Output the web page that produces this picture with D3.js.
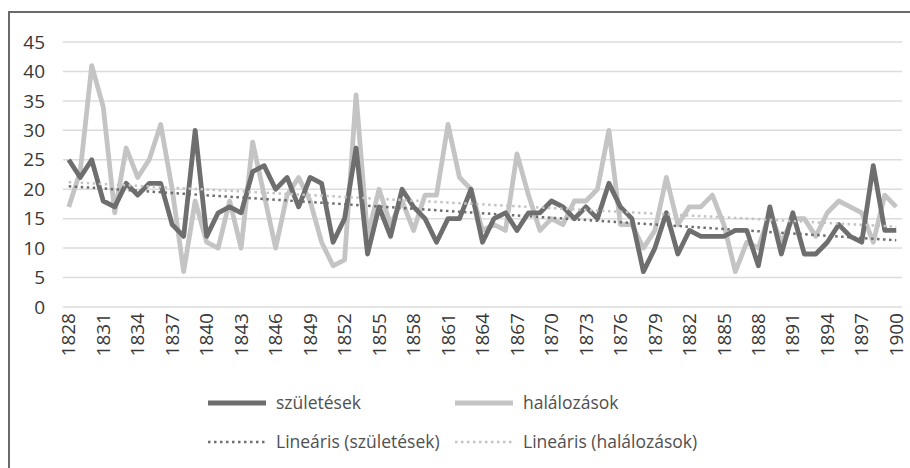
<!DOCTYPE html>
<html lang="hu"><head>
<meta charset="UTF-8"><title>Születések és halálozások 1828–1900</title>
<script src="https://cdn.jsdelivr.net/npm/d3@7/dist/d3.min.js"></script>
<style>
  body { margin:0; background:#fff; }
  svg { display:block; font-family: 'Open Sans', 'Noto Sans', sans-serif; }
  .tick-label { fill:#383838; }
  .legend text { fill:#505050; }
</style>
</head><body>
<svg id="chart" width="910" height="468"></svg>
<script>
// évek 1828–1900
const years = d3.range(1828, 1901);
const births = [25, 22, 25, 18, 17, 21, 19, 21, 21, 14, 12, 30, 12, 16, 17, 16, 23, 24, 20, 22,
  17, 22, 21, 11, 15, 27, 9, 17, 12, 20, 17, 15, 11, 15, 15, 20, 11, 15, 16, 13,
  16, 16, 18, 17, 15, 17, 15, 21, 17, 15, 6, 10, 16, 9, 13, 12, 12, 12, 13, 13,
  7, 17, 9, 16, 9, 9, 11, 14, 12, 11, 24, 13, 13];
const deaths = [17, 23, 41, 34, 16, 27, 22, 25, 31, 20, 6, 18, 11, 10, 18, 10, 28, 19, 10, 19,
  22, 18, 11, 7, 8, 36, 12, 20, 14, 18, 13, 19, 19, 31, 22, 20, 13, 14, 13, 26,
  19, 13, 15, 14, 18, 18, 20, 30, 14, 14, 10, 13, 22, 14, 17, 17, 19, 14, 6, 11,
  10, 16, 11, 15, 15, 12, 16, 18, 17, 16, 11, 19, 17];
const yTicks = [0, 5, 10, 15, 20, 25, 30, 35, 40, 45];
const xTickYears = years.filter((y, i) => i % 3 === 0);

const seriesNames = ['születések', 'halálozások'];
const trendNames = ['Lineáris (születések)', 'Lineáris (halálozások)'];
const DARK = '#6e6e6e', LIGHT = '#c4c4c4';

const svg = d3.select('#chart');

// keret (csak bal és felső él látszik)
svg.append('path')
  .attr('d', 'M9,468 V12 H910')
  .attr('fill', 'none').attr('stroke', '#6a6a6a').attr('stroke-width', 2);

const x = d3.scalePoint().domain(years).range([63, 902]).padding(0.5);
const y = d3.scaleLinear().domain([0, 45]).range([307, 42]);

// rácsvonalak
svg.append('g').selectAll('line').data(yTicks).join('line')
  .attr('x1', 63).attr('x2', 902)
  .attr('y1', d => y(d)).attr('y2', d => y(d))
  .attr('stroke', '#dcdcdc').attr('stroke-width', 1.5);

// y tengely feliratok
svg.append('g').selectAll('text').data(yTicks).join('text')
  .attr('class', 'tick-label')
  .attr('x', 45).attr('y', d => y(d)).attr('dy', '0.35em')
  .attr('text-anchor', 'end').attr('font-size', 19)
  .text(d => d);

// x tengely feliratok (függőleges)
svg.append('g').selectAll('text').data(xTickYears).join('text')
  .attr('class', 'tick-label')
  .attr('transform', d => `translate(${x(d)},${313}) rotate(-90)`)
  .attr('dy', '0.35em').attr('text-anchor', 'end').attr('font-size', 19)
  .text(d => d);

// lineáris trend (legkisebb négyzetek)
function linearFit(vals) {
  const xm = d3.mean(years), ym = d3.mean(vals);
  let sxy = 0, sxx = 0;
  years.forEach((yr, i) => { sxy += (yr - xm) * (vals[i] - ym); sxx += (yr - xm) ** 2; });
  const b = sxy / sxx;
  return yr => ym + b * (yr - xm);
}

const line = d3.line().x((d, i) => x(years[i])).y(d => y(d));

const plot = svg.append('g');
plot.append('path').datum(deaths)
  .attr('d', line).attr('fill', 'none')
  .attr('stroke', LIGHT).attr('stroke-width', 4.8).attr('stroke-linejoin', 'round');
plot.append('path').datum(births)
  .attr('d', line).attr('fill', 'none')
  .attr('stroke', DARK).attr('stroke-width', 4.8).attr('stroke-linejoin', 'round');

[[births, DARK], [deaths, LIGHT]].forEach(([vals, col]) => {
  const f = linearFit(vals);
  const ends = [years[0], years[years.length - 1]];
  plot.append('line')
    .attr('x1', x(ends[0])).attr('y1', y(f(ends[0])))
    .attr('x2', x(ends[1])).attr('y2', y(f(ends[1])))
    .attr('stroke', col).attr('stroke-width', 2.5)
    .attr('stroke-dasharray', '2.5 3.5');
});

// jelmagyarázat
const legend = svg.append('g').attr('class', 'legend');
const legendItems = [
  { label: seriesNames[0], col: DARK, w: 5, dash: null, x: 208, y: 403 },
  { label: seriesNames[1], col: LIGHT, w: 5, dash: null, x: 455, y: 403 },
  { label: trendNames[0], col: DARK, w: 2.5, dash: '2.5 3.5', x: 208, y: 442 },
  { label: trendNames[1], col: LIGHT, w: 2.5, dash: '2.5 3.5', x: 455, y: 442 }
];
legendItems.forEach(it => {
  legend.append('line')
    .attr('x1', it.x).attr('x2', it.x + 58).attr('y1', it.y).attr('y2', it.y)
    .attr('stroke', it.col).attr('stroke-width', it.w)
    .attr('stroke-dasharray', it.dash);
  legend.append('text')
    .attr('x', it.x + 68).attr('y', it.y).attr('dy', '0.35em')
    .attr('font-size', 17.5)
    .text(it.label);
});
</script>
</body></html>
